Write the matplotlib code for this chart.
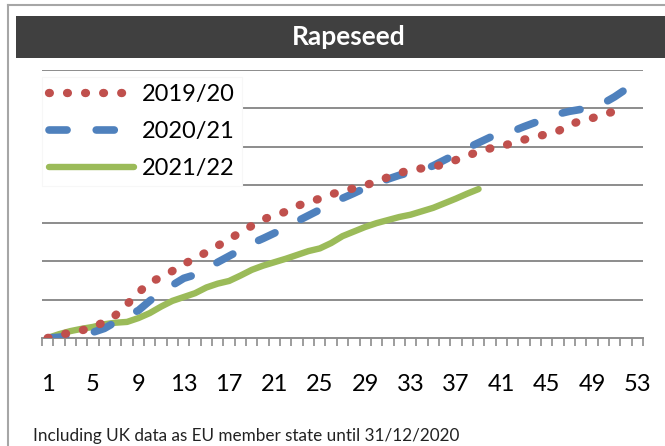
"""Cumulative weekly rapeseed chart, three marketing years."""

import matplotlib

matplotlib.use("Agg")

import matplotlib.pyplot as plt
from matplotlib.patches import Rectangle
from matplotlib.lines import Line2D

plt.rcParams["font.family"] = ["Lato", "DejaVu Sans"]
plt.rcParams["lines.scale_dashes"] = False

TITLE = "Rapeseed"
FOOTNOTE = "Including UK data as EU member state until 31/12/2020"
TICK_WEEKS = list(range(1, 54, 4))

# values, in gridline units (0..7)
RED_2019 = [
    0.00, 0.07, 0.14, 0.20, 0.28, 0.42, 0.60, 0.88, 1.18, 1.46,
    1.58, 1.75, 1.93, 2.08, 2.24, 2.41, 2.58, 2.76, 2.93, 3.10,
    3.20, 3.30, 3.45, 3.55, 3.64, 3.75, 3.84, 3.91, 3.99, 4.08,
    4.20, 4.30, 4.40, 4.43, 4.48, 4.53, 4.65, 4.76, 4.87, 4.95,
    5.01, 5.09, 5.18, 5.26, 5.32, 5.40, 5.57, 5.67, 5.74, 5.84,
    5.92, 6.00,
]
BLUE_2020 = [
    0.00, 0.02, 0.06, 0.10, 0.15, 0.25, 0.42, 0.58, 0.72, 0.97,
    1.20, 1.38, 1.56, 1.65, 1.80, 1.98, 2.14, 2.30, 2.47, 2.60,
    2.74, 2.90, 3.05, 3.20, 3.35, 3.52, 3.65, 3.78, 3.92, 4.03,
    4.15, 4.25, 4.33, 4.38, 4.50, 4.65, 4.80, 4.96, 5.10, 5.24,
    5.32, 5.40, 5.52, 5.63, 5.75, 5.85, 5.92, 5.97, 6.05, 6.13,
    6.30, 6.50, 6.50,
]
GREEN_2021 = [
    0.00, 0.10, 0.18, 0.24, 0.29, 0.36, 0.40, 0.42, 0.52, 0.65,
    0.82, 0.97, 1.07, 1.17, 1.32, 1.42, 1.49, 1.63, 1.78, 1.89,
    1.98, 2.07, 2.17, 2.27, 2.34, 2.48, 2.66, 2.78, 2.90, 3.00,
    3.08, 3.16, 3.22, 3.31, 3.40, 3.52, 3.64, 3.77, 3.89,
]

fig = plt.figure(figsize=(6.65, 4.46), dpi=100)
W, H = 665, 446

# outer frame and title bar (pixel coords -> figure fraction)
fig.add_artist(Line2D([8 / W, 8 / W], [0, 1 - 5 / H], color="#a6a6a6", lw=1.5))
fig.add_artist(Line2D([8 / W, 1], [1 - 5 / H, 1 - 5 / H], color="#a6a6a6", lw=1.5))
fig.add_artist(Rectangle((16 / W, 1 - 58 / H), 1, 42 / H, color="#404040", lw=0))
fig.text(349 / W, 1 - 37 / H, TITLE, color="white", fontsize=19, fontweight="bold",
         ha="center", va="center")
fig.text(33 / W, 1 - 436 / H, FOOTNOTE, fontsize=12.3, color="#222222", va="center")

ax = fig.add_axes([42 / W, 1 - 338 / H, 601 / W, 268 / H])

weeks_r = list(range(1, len(RED_2019) + 1))
weeks_b = list(range(1, len(BLUE_2020) + 1))
weeks_g = list(range(1, len(GREEN_2021) + 1))

ax.plot(weeks_g, GREEN_2021, color="#9bbb59", lw=4.6, solid_capstyle="round",
        label="2021/22", zorder=3)
ax.plot(weeks_b, BLUE_2020, color="#4f81bd", lw=5.5, dashes=(13, 21),
        dash_capstyle="round", label="2020/21", zorder=4)
ax.plot(weeks_r, RED_2019, color="#c0504d", lw=6, dashes=(0.6, 12.4),
        dash_capstyle="round", label="2019/20", zorder=5)

ax.set_xlim(0.5, 53.5)
ax.set_ylim(0, 7)
ax.set_yticks(range(1, 8))
ax.yaxis.grid(True, color="#8c8c8c", lw=1.4)
ax.set_axisbelow(True)
ax.tick_params(axis="y", left=False, labelleft=False)
for side in ("top", "right", "left"):
    ax.spines[side].set_visible(False)
ax.spines["bottom"].set_color("#8c8c8c")
ax.spines["bottom"].set_linewidth(1.4)

ax.set_xticks(TICK_WEEKS)
ax.set_xticklabels([str(w) for w in TICK_WEEKS], fontsize=17)
ax.set_xticks([w + 0.5 for w in range(0, 54)], minor=True)
ax.tick_params(axis="x", which="major", length=0, pad=26)
ax.tick_params(axis="x", which="minor", length=6, width=1.2, color="#8c8c8c")

handles, labels = ax.get_legend_handles_labels()
leg = ax.legend(handles[::-1], labels[::-1], loc="upper left",
                bbox_to_anchor=(0.0, 0.975), borderaxespad=0, fontsize=17,
                handlelength=3.6, handletextpad=0.35, labelspacing=0.68,
                borderpad=0.3, fancybox=False, framealpha=1)
leg.get_frame().set_edgecolor("#f7f7f7")
leg.get_frame().set_linewidth(0.8)

fig.savefig("out.png", dpi=100)
